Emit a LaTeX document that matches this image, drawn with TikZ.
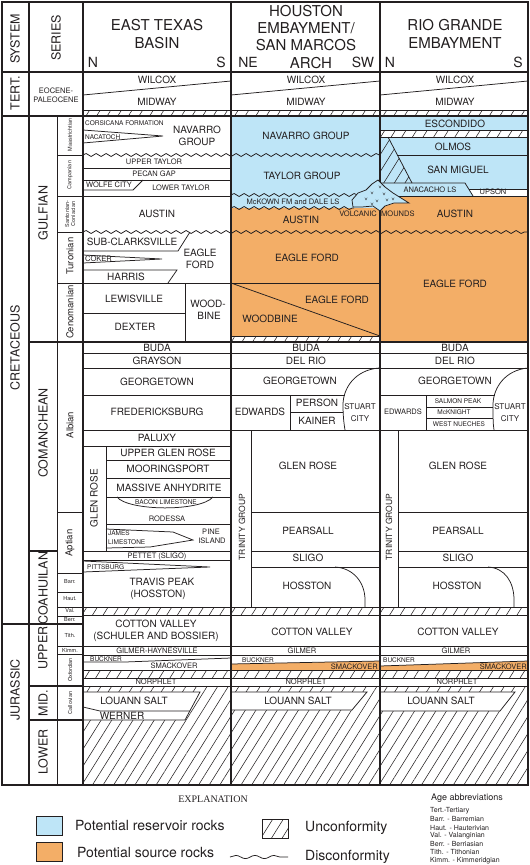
\documentclass[tikz,border=0pt]{standalone}
\usepackage{fontspec}
\setmainfont{TeX Gyre Heros}
\newfontfamily\explfont{Liberation Serif}
\usetikzlibrary{patterns.meta, decorations.pathmorphing}
\definecolor{ChartInk}{HTML}{231F20}
\definecolor{ReservoirBlue}{HTML}{BEE5F7}
\definecolor{SourceOrange}{HTML}{F3AE67}
\tikzset{
    % Line styles
    boxline/.style={draw=ChartInk, line width=1.2pt},
    unitline/.style={draw=ChartInk, line width=0.75pt},
    waveline/.style={
        draw=ChartInk,
        line width=0.75pt,
        decorate,
        decoration={snake, segment length=10pt, amplitude=1.5pt}
    },
    % Area styles
    unconfarea/.style={
        pattern={Lines[angle=58, distance=9pt, line width=0.55pt]},
        pattern color=ChartInk
    },
    swatchbox/.style={
        rectangle,
        draw=ChartInk,
        line width=0.8pt,
        minimum width=26pt,
        minimum height=19pt,
        inner sep=0pt
    },
    % Text styles
    headtext/.style={text=ChartInk, inner sep=0pt, font=\fontsize{15}{15}\selectfont},
    dirtext/.style={text=ChartInk, inner sep=0pt, font=\fontsize{14}{14}\selectfont},
    seriestext/.style={text=ChartInk, inner sep=0pt, rotate=90, font=\fontsize{12.5}{12.5}\selectfont},
    stagetext/.style={text=ChartInk, inner sep=0pt, rotate=90, font=\fontsize{9.5}{9.5}\selectfont},
    stagetiny/.style={text=ChartInk, inner sep=0pt, font=\fontsize{5.5}{6}\selectfont},
    unittext/.style={text=ChartInk, inner sep=0pt, font=\fontsize{10}{10}\selectfont},
    unitsmall/.style={text=ChartInk, inner sep=0pt, font=\fontsize{7.5}{7.5}\selectfont},
    unittiny/.style={text=ChartInk, inner sep=0pt, font=\fontsize{6.5}{6.5}\selectfont},
    legendtext/.style={text=ChartInk, inner sep=0pt, anchor=west, font=\fontsize{14}{14}\selectfont},
    abbrtext/.style={text=ChartInk, inner sep=0pt, anchor=west, font=\fontsize{7}{7}\selectfont}
}

\begin{document}
\begin{tikzpicture}[x=1pt, y=-1pt]
    \useasboundingbox (0,0) rectangle (530,865);

    % Reservoir and source colours
    \fill[ReservoirBlue] (231,116) rectangle (380,208);
    \fill[SourceOrange] (231,208) rectangle (380,336);
    \fill[ReservoirBlue] (380,116) rectangle (528,130);
    \fill[ReservoirBlue] (380,137) -- (528,137) -- (528,189) -- (469,189) -- (473,196) -- (380,196) -- cycle;
    \fill[SourceOrange] (380,196) rectangle (528,342);
    \fill[SourceOrange] (231,664) -- (380,661) -- (380,670) -- (231,670) -- cycle;
    \fill[SourceOrange] (380,666) -- (528,661) -- (528,670) -- (380,670) -- cycle;

    % Unconformities
    \path[unconfarea] (83,110) rectangle (528,116);
    \path[unconfarea] (380,130) rectangle (528,137);
    \path[unconfarea] (380,137) -- (388,137) -- (412,183) -- (380,183) -- cycle;
    \path[unconfarea] (231,336) rectangle (380,342);
    \path[unconfarea] (83,607) rectangle (528,615);
    \path[unconfarea] (83,670) rectangle (528,678);
    \path[unconfarea] (83,686) rectangle (528,785);

    % Salt bodies
    \fill[white] (83,692) -- (200,692) -- (185,720) -- (83,720) -- cycle;
    \fill[white] (231,692) -- (367,692) -- (352,710) -- (231,710) -- cycle;
    \fill[white] (380,692) -- (515,692) -- (500,711) -- (380,711) -- cycle;
    \draw[unitline] (83,692) -- (200,692) -- (185,720) -- (83,720);
    \draw[unitline] (83,707) -- (100,711) -- (190,711);
    \draw[unitline] (231,692) -- (367,692) -- (352,710) -- (231,710);
    \draw[unitline] (380,692) -- (515,692) -- (500,711) -- (380,711);

    % Frame and columns
    \draw[boxline] (2,2) rectangle (528,785);
    \foreach \x in {29,83,231,380}
        \draw[boxline] (\x,2) -- (\x,785);
    \draw[boxline] (2,72) -- (528,72);
    \draw[boxline] (2,116) -- (528,116);
    \draw[boxline] (2,624) -- (83,624);
    \draw[unitline] (57,116) -- (57,785);
    \draw[boxline] (29,342) -- (83,342);
    \draw[boxline] (29,551) -- (57,551);
    \draw[boxline] (29,686) -- (83,686);
    \draw[boxline] (29,720) -- (83,720);
    \foreach \y in {155,196,232,283,512,573,592,607,616,646,654}
        \draw[unitline] (57,\y) -- (83,\y);

    % Tertiary
    \foreach \a/\b in {83/231,231/380,380/528}
        \draw[unitline] (\a,95) -- (\b,81);
    \draw[unitline] (83,110) -- (528,110);

    % Gulfian, East Texas
    \draw[unitline] (83,130) -- (163,136) -- (83,143);
    \draw[waveline] (83,155) -- (380,155);
    \draw[unitline] (83,168) -- (231,168);
    \draw[unitline] (83,180) -- (231,180);
    \draw[unitline] (83,190) -- (133,190) -- (143,180);
    \draw[unitline] (83,196) -- (231,196);
    \draw[waveline] (83,232) -- (528,232);
    \draw[unitline] (83,251) -- (178,251) -- (190,232);
    \draw[unitline] (83,255) -- (162,259) -- (83,263);
    \draw[unitline] (83,270) -- (177,270) -- (168,283);
    \draw[unitline] (83,283) -- (380,283);
    \draw[unitline] (83,313) -- (185,313);
    \draw[unitline] (185,283) -- (185,342);
    \draw[boxline] (83,342) -- (528,342);

    % Gulfian, Houston and Rio Grande
    \draw[waveline] (231,195) -- (362,195);
    \draw[waveline] (231,208) -- (354,208);
    \draw[unitline] (231,283) -- (380,336);
    \draw[unitline] (231,336) -- (380,336);
    \draw[unitline] (380,130) -- (528,130);
    \draw[unitline] (380,137) -- (528,137);
    \draw[unitline] (388,137) -- (412,183);
    \draw[unitline] (397,155) -- (528,155);
    \draw[unitline] (380,183) -- (465,183) -- (473,196);
    \draw[unitline] (469,189) -- (528,189);
    \draw[unitline] (380,196) -- (528,196);

    % Comanchean
    \foreach \y in {353,368,430}
        \draw[unitline] (83,\y) -- (528,\y);
    \draw[unitline] (83,395) -- (344.5,395);
    \draw[unitline] (290,395) -- (290,430);
    \draw[unitline] (290,412) -- (343,412);
    \draw[unitline] (379,368) .. controls (355,370) and (343,388) .. (343,405) .. controls (343,416) and (344,424) .. (345,430);
    \draw[unitline] (380,395) -- (494.5,395);
    \draw[unitline] (426,395) -- (426,430);
    \draw[unitline] (426,407) -- (493,407);
    \draw[unitline] (426,418) -- (493,418);
    \draw[unitline] (528,368) .. controls (505,370) and (493,388) .. (493,405) .. controls (493,416) and (493,424) .. (494,430);
    \draw[unitline] (83,446) -- (231,446);
    \draw[unitline] (106,446) -- (106,551);
    \foreach \y in {460,478,497,524}
        \draw[unitline] (106,\y) -- (231,\y);
    \draw[unitline] (117,497) .. controls (128,511) and (200,512) .. (213,497);
    \draw[unitline] (106,529) -- (173,532) -- (193,540) -- (150,547) -- (106,548);
    \draw[unitline] (83,551) -- (231,551);
    \draw[unitline] (83,560) -- (231,560);
    \draw[unitline] (83,561) -- (210,567) -- (83,572);
    \foreach \a/\b in {251/380,398/528} {
        \draw[unitline] (\a,430) -- (\a,607);
        \draw[unitline] (\a,512) -- (\b,512);
        \draw[unitline] (\a,551) -- (\b,551);
        \draw[unitline] (\a,567) -- (\b,567);
    }
    \draw[unitline] (335,567) .. controls (353,568) and (365,582) .. (365,600) -- (365,607);
    \draw[unitline] (488,567) .. controls (505,568) and (514,582) .. (514,600) -- (514,607);
    \draw[unitline] (83,607) -- (528,607);
    \draw[unitline] (83,615) -- (528,615);

    % Jurassic
    \draw[unitline] (83,646) -- (528,646);
    \draw[unitline] (83,655) -- (528,655);
    \draw[unitline] (83,662) -- (125,662) -- (231,658);
    \draw[unitline] (231,664) -- (380,661);
    \draw[unitline] (380,666) -- (528,661);
    \foreach \y in {670,678,686}
        \draw[unitline] (83,\y) -- (528,\y);

    % Volcanic mounds
    \filldraw[fill=ReservoirBlue, unitline] (352,200) -- (358,193) -- (366,190) -- (372,184) -- (378,180) -- (385,187) -- (393,193) -- (409,203) -- (394,203) -- (385,206) -- (380,211) -- (373,206) -- (362,207) -- (353,207) -- cycle;
    \foreach \vx/\vy in {366/199,372/193,377/201,384/194,387/200,393/199,372/204,380/187}
        \draw[ChartInk, line width=0.4pt] (\vx-1.2,\vy-1.4) -- (\vx,\vy+1) -- (\vx+1.2,\vy-1.4);

    % Header
    \node[seriestext] (sysHead) at (15,39) {SYSTEM};
    \node[seriestext] (serHead) at (56,38) {SERIES};
    \node[headtext] (etTitleA) at (157,25) {EAST TEXAS};
    \node[headtext] (etTitleB) at (157,43) {BASIN};
    \node[dirtext] (etN) at (93,62) {N};
    \node[dirtext] (etS) at (221,62) {S};
    \node[headtext] (hoTitleA) at (306,11) {HOUSTON};
    \node[headtext] (hoTitleB) at (306,28) {EMBAYMENT/};
    \node[headtext] (hoTitleC) at (306,45) {SAN MARCOS};
    \node[headtext] (hoTitleD) at (311,63) {ARCH};
    \node[dirtext] (hoNE) at (248,62) {NE};
    \node[dirtext] (hoSW) at (363,62) {SW};
    \node[headtext] (rgTitleA) at (455,25) {RIO GRANDE};
    \node[headtext] (rgTitleB) at (455,43) {EMBAYMENT};
    \node[dirtext] (rgN) at (390,62) {N};
    \node[dirtext] (rgS) at (518,62) {S};

    % Systems and series
    \node[seriestext] (tertSys) at (15,93) {TERT.};
    \node[unitsmall] (eoceneA) at (56,91) {EOCENE-};
    \node[unitsmall] (eoceneB) at (56,100) {PALEOCENE};
    \node[seriestext] (cretSys) at (15,348) {CRETACEOUS};
    \node[seriestext] (jurSys) at (15,690) {JURASSIC};
    \node[seriestext] (gulfSer) at (43,213) {GULFIAN};
    \node[seriestext] (comSer) at (43,433) {COMANCHEAN};
    \node[seriestext] (coaSer) at (43,588) {COAHUILAN};
    \node[seriestext] (upperSer) at (43,648) {UPPER};
    \node[seriestext] (midSer) at (43,703) {MID.};
    \node[seriestext] (lowerSer) at (43,752) {LOWER};

    % Stages
    \node[stagetiny, rotate=90] (maastr) at (70,135) {Maastrichtian};
    \node[stagetiny, rotate=90] (campan) at (70,175) {Campanian};
    \node[stagetiny, rotate=90, align=center] (santon) at (70,214) {Santonian-\\Coniacian};
    \node[stagetext] (turon) at (70,256) {Turonian};
    \node[stagetext] (cenom) at (70,312) {Cenomanian};
    \node[stagetext] (albian) at (70,425) {Albian};
    \node[stagetext] (aptian) at (70,543) {Aptian};
    \node[stagetiny] (barr) at (70,582) {Barr.};
    \node[stagetiny] (haut) at (70,599) {Haut.};
    \node[stagetiny] (valang) at (70,611) {Val.};
    \node[stagetiny] (berr) at (70,620) {Berr.};
    \node[stagetiny] (tith) at (70,636) {Tith.};
    \node[stagetiny] (kimm) at (70,650) {Kimm.};
    \node[stagetiny, rotate=90] (oxford) at (70,670) {Oxfordian};
    \node[stagetiny, rotate=90] (callov) at (70,703) {Callovian};

    % Tertiary units
    \foreach \x/\col in {157/E,306/H,455/R} {
        \node[unittext] (wilcox\col) at (\x,80) {WILCOX};
        \node[unittext] (midway\col) at (\x,102) {MIDWAY};
    }

    % Gulfian units, East Texas
    \node[unittiny, anchor=west] (etCorsicana) at (85,123) {CORSICANA FORMATION};
    \node[unittiny, anchor=west] (etNacatoch) at (85,137) {NACATOCH};
    \node[unittext] (etNavarroA) at (197,130) {NAVARRO};
    \node[unittext] (etNavarroB) at (197,142) {GROUP};
    \node[unitsmall] (etUpperTaylor) at (154,162) {UPPER TAYLOR};
    \node[unitsmall] (etPecanGap) at (154,174) {PECAN GAP};
    \node[unitsmall] (etWolfeCity) at (109,185) {WOLFE CITY};
    \node[unitsmall] (etLowerTaylor) at (181,188) {LOWER TAYLOR};
    \node[unittext] (etAustin) at (157,214) {AUSTIN};
    \node[unittext] (etSubClark) at (132,242) {SUB-CLARKSVILLE};
    \node[unittext] (etEagleA) at (200,253) {EAGLE};
    \node[unittext] (etEagleB) at (200,265) {FORD};
    \node[unitsmall, anchor=west] (etCoker) at (85,259) {COKER};
    \node[unittext] (etHarris) at (126,277) {HARRIS};
    \node[unittext] (etLewisville) at (134,299) {LEWISVILLE};
    \node[unittext] (etDexter) at (135,327) {DEXTER};
    \node[unittext] (etWoodA) at (208,304) {WOOD-};
    \node[unittext] (etWoodB) at (209,316) {BINE};

    % Gulfian units, Houston
    \node[unittext] (hoNavarro) at (306,136) {NAVARRO GROUP};
    \node[unittext] (hoTaylor) at (302,176) {TAYLOR GROUP};
    \node[unitsmall] (hoMcKown) at (293,202) {McKOWN FM and DALE LS};
    \node[unittext] (hoAustin) at (301,220) {AUSTIN};
    \node[unitsmall, anchor=east] (hoVolcanic) at (377,214) {VOLCANIC};
    \node[unitsmall, anchor=west] (rgMounds) at (381,214) {MOUNDS};
    \node[unittext] (hoEagleA) at (307,258) {EAGLE FORD};
    \node[unittext] (hoEagleB) at (337,300) {EAGLE FORD};
    \node[unittext] (hoWoodbine) at (270,319) {WOODBINE};

    % Gulfian units, Rio Grande
    \node[unittext] (rgEscondido) at (455,124) {ESCONDIDO};
    \node[unittext] (rgOlmos) at (453,147) {OLMOS};
    \node[unittext] (rgSanMiguel) at (458,170) {SAN MIGUEL};
    \node[unitsmall] (rgAnacacho) at (430,190) {ANACACHO LS};
    \node[unitsmall] (rgUpson) at (493,192) {UPSON};
    \node[unittext] (rgAustin) at (455,214) {AUSTIN};
    \node[unittext] (rgEagle) at (455,284) {EAGLE FORD};

    % Comanchean units
    \foreach \x/\col in {157/E,306/H,455/R}
        \node[unittext] (buda\col) at (\x,348) {BUDA};
    \node[unittext] (etGrayson) at (157,361) {GRAYSON};
    \node[unittext] (hoDelRio) at (306,361) {DEL RIO};
    \node[unittext] (rgDelRio) at (455,361) {DEL RIO};
    \node[unittext] (etGeorgetown) at (157,382) {GEORGETOWN};
    \node[unittext] (hoGeorgetown) at (300,381) {GEORGETOWN};
    \node[unittext] (rgGeorgetown) at (455,381) {GEORGETOWN};
    \node[unittext] (etFred) at (157,412) {FREDERICKSBURG};
    \node[unittext] (hoEdwards) at (260,412) {EDWARDS};
    \node[unittext] (hoPerson) at (317,403) {PERSON};
    \node[unittext] (hoKainer) at (317,421) {KAINER};
    \node[unitsmall, font=\fontsize{8}{8}\selectfont] (hoStuartA) at (360,407) {STUART};
    \node[unitsmall, font=\fontsize{8}{8}\selectfont] (hoStuartB) at (360,419) {CITY};
    \node[unitsmall] (rgEdwards) at (403,412) {EDWARDS};
    \node[unittiny] (rgSalmon) at (458,401) {SALMON PEAK};
    \node[unittiny] (rgMcKnight) at (454,412) {McKNIGHT};
    \node[unittiny] (rgNueches) at (459,424) {WEST NUECHES};
    \node[unitsmall, font=\fontsize{8}{8}\selectfont] (rgStuartA) at (510,407) {STUART};
    \node[unitsmall, font=\fontsize{8}{8}\selectfont] (rgStuartB) at (510,419) {CITY};
    \node[unittext] (etPaluxy) at (157,438) {PALUXY};
    \node[unittext, rotate=90] (etGlenRose) at (94,498) {GLEN ROSE};
    \node[unittext] (etUpperGlen) at (168,453) {UPPER GLEN ROSE};
    \node[unittext] (etMooring) at (168,469) {MOORINGSPORT};
    \node[unittext] (etAnhydrite) at (169,488) {MASSIVE ANHYDRITE};
    \node[unittiny] (etBacon) at (166,502) {BACON LIMESTONE};
    \node[unitsmall] (etRodessa) at (167,519) {RODESSA};
    \node[unittiny, anchor=west] (etJamesA) at (108,533) {JAMES};
    \node[unittiny, anchor=west] (etJamesB) at (108,542) {LIMESTONE};
    \node[unitsmall] (etPineA) at (211,532) {PINE};
    \node[unitsmall] (etPineB) at (212,541) {ISLAND};
    \node[unitsmall] (etPettet) at (157,556) {PETTET (SLIGO)};
    \node[unittiny, anchor=west] (etPittsburg) at (87,567) {PITTSBURG};
    \node[unittext] (etTravisA) at (162,582) {TRAVIS PEAK};
    \node[unittext] (etTravisB) at (158,595) {(HOSSTON)};
    \foreach \x/\gx/\col in {242/308/H,389/458/R} {
        \node[unitsmall, rotate=90, font=\fontsize{8.5}{8.5}\selectfont] (trinity\col) at (\x,527) {TRINITY GROUP};
        \node[unittext] (glenRose\col) at (\gx,466) {GLEN ROSE};
        \node[unittext] (pearsall\col) at (\gx,531) {PEARSALL};
        \node[unittext] (sligo\col) at (\gx,558) {SLIGO};
        \node[unittext] (hosston\col) at (\gx-1,586) {HOSSTON};
    }

    % Jurassic units
    \node[unittext] (etCottonA) at (156,624) {COTTON VALLEY};
    \node[unittext] (etCottonB) at (156,637) {(SCHULER AND BOSSIER)};
    \node[unitsmall] (etGilmer) at (157,651) {GILMER-HAYNESVILLE};
    \node[unittiny, anchor=west] (etBuckner) at (90,659) {BUCKNER};
    \node[unitsmall] (etSmackover) at (174,666) {SMACKOVER};
    \node[unitsmall] (etNorphlet) at (156,682) {NORPHLET};
    \node[unittext] (etLouann) at (134,701) {LOUANN SALT};
    \node[unittext] (etWerner) at (122,715.5) {WERNER};
    \node[unittext] (hoCotton) at (312,632) {COTTON VALLEY};
    \node[unitsmall] (hoGilmer) at (302,651) {GILMER};
    \node[unittiny] (hoBuckner) at (258,660) {BUCKNER};
    \node[unitsmall, anchor=east] (hoSmackover) at (378,666.5) {SMACKOVER};
    \node[unitsmall] (hoNorphlet) at (306,682) {NORPHLET};
    \node[unittext] (hoLouann) at (298,701) {LOUANN SALT};
    \node[unittext] (rgCotton) at (458,632) {COTTON VALLEY};
    \node[unitsmall] (rgGilmer) at (456,651) {GILMER};
    \node[unittiny, anchor=west] (rgBuckner) at (383,660) {BUCKNER};
    \node[unitsmall, anchor=east] (rgSmackover) at (527,666.5) {SMACKOVER};
    \node[unitsmall] (rgNorphlet) at (457,682) {NORPHLET};
    \node[unittext] (rgLouann) at (441,701) {LOUANN SALT};

    % Explanation
    \node[text=ChartInk, inner sep=0pt, font=\explfont\fontsize{10}{10}\selectfont] (explain) at (213,799) {EXPLANATION};
    \node[swatchbox, fill=ReservoirBlue] (resSwatch) at (49,825.5) {};
    \node[legendtext] (resText) at (75,825) {Potential reservoir rocks};
    \node[swatchbox, fill=SourceOrange] (srcSwatch) at (49,852) {};
    \node[legendtext] (srcText) at (77,852) {Potential source rocks};
    \node[swatchbox, unconfarea] (unconfSwatch) at (275,828.5) {};
    \node[legendtext] (unconfText) at (305,828) {Unconformity};
    \coordinate (waveStart) at (230,857);
    \coordinate (waveEnd) at (288,857);
    \draw[waveline, decoration={segment length=19pt, amplitude=1.6pt}] (waveStart) -- (waveEnd);
    \node[legendtext] (disconfText) at (305,857) {Disconformity};

    % Age abbreviations
    \node[text=ChartInk, inner sep=0pt, font=\fontsize{9}{9}\selectfont] (abbrTitle) at (467,798) {Age abbreviations};
    \foreach \t [count=\i] in {Tert.-Tertiary, Barr. - Barremian, Haut. - Hauterivian, Val. - Valanginian, Berr. - Berriasian, Tith. - Tithonian, Kimm. - Kimmeridgian}
        \node[abbrtext] (abbr\i) at (430,803+8.2*\i) {\t};
\end{tikzpicture}
\end{document}
